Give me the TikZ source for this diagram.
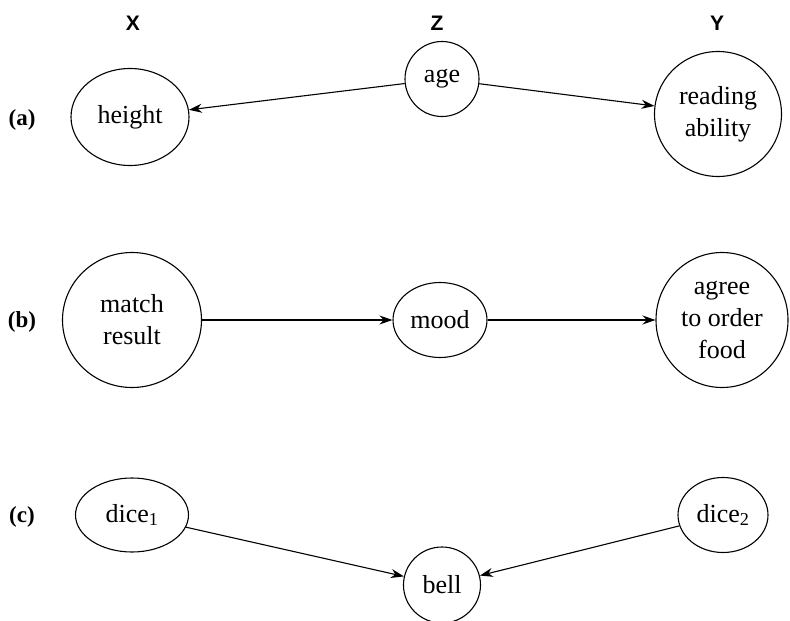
\documentclass[tikz,border=0pt]{standalone}
\usepackage{fontspec}
\setmainfont{Liberation Serif}
\setsansfont{Liberation Sans}
\usetikzlibrary{shapes.geometric,arrows.meta}
\begin{document}
\begin{tikzpicture}[x=1pt,y=-1pt,
  var/.style={draw,ellipse,line width=1.1pt,inner sep=0pt,align=center,
    font=\fontsize{26}{32}\selectfont},
  hdr/.style={font=\fontsize{23}{27}\selectfont\bfseries},
  col/.style={font=\fontsize{21}{25}\selectfont\sffamily\bfseries},
  arr/.style={line width=1.1pt,-{Stealth[length=13pt,width=9pt]}}]
\useasboundingbox (0,0) rectangle (790,621);
% headers
\node[col] (hx) at (133,23) {X};
\node[col] (hz) at (437,23) {Z};
\node[col] (hy) at (717,23) {Y};
\node[hdr] (la) at (22,120) {(a)};
\node[hdr] (lb) at (22,322) {(b)};
\node[hdr] (lc) at (22,517) {(c)};
% row a
\node[var,minimum width=118pt,minimum height=97pt] (height) at (130,117) {height};
\node[var,minimum width=74pt,minimum height=75pt] (age) at (442,79) {age};
\node[var,minimum width=127pt,minimum height=125pt] (read) at (718,114) {reading\\ability};
\draw[arr] (age) -- (height);
\draw[arr] (age) -- (read);
% row b
\node[var,minimum width=139pt,minimum height=135pt] (match) at (132,320) {match\\result};
\node[var,minimum width=94pt,minimum height=75pt] (mood) at (440,320) {mood};
\node[var,minimum width=132pt,minimum height=135pt] (agree) at (722,320) {agree\\to order\\food};
\draw[arr] (match) -- (mood);
\draw[arr] (mood) -- (agree);
% row c
\node[var,minimum width=113pt,minimum height=74pt] (d1) at (132,515) {dice\textsubscript{1}};
\node[var,minimum width=90pt,minimum height=75pt] (d2) at (723,515) {dice\textsubscript{2}};
\node[var,minimum width=77pt,minimum height=76pt] (bell) at (442,585) {bell};
\draw[arr] (d1) -- (bell);
\draw[arr] (d2) -- (bell);
\end{tikzpicture}
\end{document}
